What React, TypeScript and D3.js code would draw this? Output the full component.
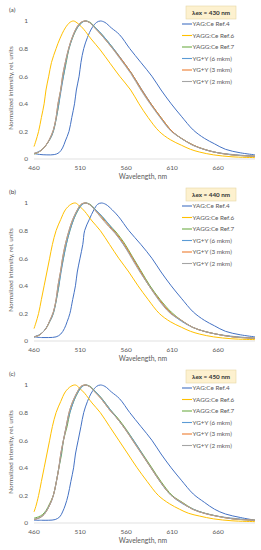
import React, { useEffect, useRef } from "react";
import * as d3 from "d3";

type Pt = [number, number];

const seriesNames = ["YAG:Ce Ref.4", "YAGG:Ce Ref.6", "YAGG:Ce Ref.7", "YG+Y (6 mkm)", "YG+Y (3 mkm)", "YG+Y (2 mkm)"];
const seriesColors = ["#4472C4", "#FFC000", "#70AD47", "#5B9BD5", "#ED7D31", "#A5A5A5"];
const panelLabels = ["(a)", "(b)", "(c)"];
const excitation = ["λex = 430 nm", "λex = 440 nm", "λex = 450 nm"];
const xTicks = [460, 510, 560, 610, 660];
const yTicks = [0, 0.2, 0.4, 0.6, 0.8, 1];

// (a) λex = 430 nm
const ref4A: Pt[] = [[460,0.04],[466,0.033],[474,0.03],[482,0.032],[487,0.045],[491,0.08],[494,0.13],[498,0.2],[501,0.3],[504,0.4],[506,0.5],[509,0.6],[511,0.7],[514,0.8],[518,0.88],[523,0.95],[528,0.99],[532,1.0],[537,0.99],[544,0.95],[553,0.9],[564,0.8],[576,0.7],[588,0.6],[598,0.5],[609,0.4],[620,0.31],[633,0.21],[645,0.15],[656,0.11],[668,0.07],[684,0.045],[700,0.03]];
const ref6A: Pt[] = [[460,0.09],[462,0.13],[465,0.2],[468,0.3],[471,0.4],[473,0.5],[476,0.6],[479,0.7],[484,0.8],[488,0.87],[494,0.95],[499,0.99],[503,1.0],[508,0.98],[514,0.94],[522,0.87],[532,0.79],[543,0.69],[553,0.6],[565,0.5],[574,0.4],[584,0.3],[596,0.2],[608,0.14],[620,0.1],[630,0.07],[640,0.05],[655,0.03],[675,0.016],[700,0.01]];
const ref7A: Pt[] = [[460,0.035],[465,0.05],[469,0.07],[473,0.1],[477,0.14],[481,0.2],[484,0.29],[487,0.4],[489,0.5],[492,0.6],[495,0.7],[498,0.8],[502,0.88],[507,0.95],[512,0.99],[516,1.0],[521,0.99],[527,0.95],[534,0.9],[544,0.82],[554,0.73],[566,0.62],[577,0.5],[587,0.4],[598,0.3],[610,0.2],[620,0.15],[633,0.1],[645,0.07],[656,0.05],[675,0.03],[700,0.02]];
const yg6A: Pt[] = [[460,0.04],[469,0.07],[477,0.14],[481,0.2],[487,0.4],[492,0.6],[498,0.8],[507,0.95],[516,1.0],[527,0.95],[544,0.82],[566,0.62],[587,0.4],[610,0.2],[633,0.1],[656,0.05],[700,0.02]];
const yg3A: Pt[] = [[460,0.04],[465,0.05],[469,0.07],[473,0.1],[477,0.145],[481,0.21],[484,0.3],[486,0.4],[489,0.5],[491,0.6],[494,0.7],[498,0.81],[502,0.89],[507,0.96],[511,0.99],[515,1.0],[520,0.99],[526,0.95],[533,0.9],[543,0.82],[554,0.73],[566,0.62],[577,0.5],[587,0.4],[598,0.3],[610,0.2],[620,0.15],[633,0.1],[645,0.07],[656,0.05],[675,0.03],[700,0.02]];
const yg2A: Pt[] = [[460,0.04],[465,0.05],[469,0.07],[473,0.1],[477,0.145],[481,0.21],[484,0.3],[486,0.4],[489,0.5],[491,0.6],[494,0.7],[498,0.81],[502,0.89],[507,0.96],[511,0.99],[515,1.0],[520,0.99],[526,0.95],[533,0.9],[543,0.82],[553,0.73],[565,0.62],[576,0.5],[586,0.4],[597,0.3],[609,0.2],[620,0.15],[632,0.1],[645,0.07],[656,0.05],[675,0.03],[700,0.02]];

// (b) λex = 440 nm
const ref4B: Pt[] = [[460,0.03],[468,0.025],[476,0.025],[484,0.03],[489,0.05],[493,0.09],[496,0.14],[499,0.2],[502,0.3],[505,0.4],[507,0.5],[510,0.6],[513,0.7],[515,0.8],[520,0.88],[525,0.95],[529,0.99],[533,1.0],[538,0.99],[545,0.95],[552,0.9],[563,0.8],[576,0.7],[588,0.6],[598,0.5],[609,0.4],[620,0.31],[633,0.21],[645,0.15],[656,0.11],[668,0.07],[684,0.045],[700,0.03]];
const ref6B: Pt[] = [[460,0.09],[462,0.13],[465,0.2],[468,0.3],[471,0.4],[474,0.5],[477,0.6],[480,0.7],[484,0.8],[489,0.88],[494,0.95],[500,0.99],[505,1.0],[509,0.98],[515,0.94],[523,0.87],[532,0.8],[542,0.7],[552,0.6],[563,0.5],[573,0.4],[584,0.3],[596,0.2],[608,0.14],[620,0.1],[630,0.07],[640,0.05],[655,0.03],[675,0.016],[700,0.01]];
const ref7B: Pt[] = [[460,0.03],[465,0.04],[469,0.06],[473,0.09],[477,0.14],[481,0.2],[484,0.29],[487,0.4],[489,0.5],[492,0.6],[495,0.7],[499,0.8],[503,0.88],[508,0.95],[512,0.99],[516,1.0],[521,0.99],[527,0.95],[534,0.9],[542,0.84],[549,0.79],[558,0.71],[567,0.61],[576,0.51],[586,0.4],[597,0.3],[609,0.21],[620,0.15],[632,0.1],[645,0.07],[658,0.05],[676,0.03],[700,0.02]];
const yg6B: Pt[] = [[460,0.03],[469,0.06],[477,0.14],[481,0.2],[487,0.4],[492,0.6],[499,0.8],[508,0.95],[516,1.0],[527,0.95],[542,0.84],[567,0.6],[585,0.4],[609,0.2],[632,0.1],[658,0.05],[700,0.02]];
const yg3B: Pt[] = [[460,0.03],[465,0.04],[469,0.06],[473,0.09],[477,0.145],[481,0.21],[484,0.3],[486,0.4],[489,0.51],[491,0.6],[494,0.7],[498,0.8],[502,0.88],[507,0.95],[511,0.99],[515,1.0],[520,0.99],[526,0.95],[533,0.9],[542,0.83],[549,0.78],[558,0.7],[567,0.6],[576,0.5],[585,0.4],[596,0.3],[609,0.2],[620,0.15],[632,0.1],[645,0.07],[658,0.05],[676,0.03],[700,0.02]];
const yg2B: Pt[] = [[460,0.03],[465,0.04],[469,0.06],[473,0.09],[477,0.145],[481,0.21],[484,0.3],[486,0.4],[489,0.51],[491,0.6],[494,0.7],[498,0.8],[502,0.88],[507,0.95],[511,0.99],[515,1.0],[520,0.99],[526,0.95],[532,0.9],[541,0.83],[548,0.78],[557,0.7],[566,0.6],[575,0.5],[585,0.4],[595,0.3],[608,0.2],[620,0.15],[632,0.1],[645,0.07],[658,0.05],[676,0.03],[700,0.02]];

// (c) λex = 450 nm
const ref4C: Pt[] = [[460,0.02],[468,0.02],[476,0.02],[483,0.025],[488,0.045],[491,0.08],[494,0.13],[497,0.2],[500,0.3],[503,0.4],[505,0.5],[508,0.6],[511,0.7],[514,0.8],[518,0.88],[523,0.95],[528,0.99],[532,1.0],[537,0.99],[544,0.95],[553,0.9],[564,0.8],[576,0.7],[588,0.6],[598,0.5],[609,0.4],[620,0.31],[633,0.21],[645,0.15],[656,0.1],[668,0.065],[684,0.04],[700,0.02]];
const ref6C: Pt[] = [[460,0.08],[462,0.12],[465,0.2],[468,0.3],[471,0.4],[474,0.5],[477,0.6],[480,0.7],[484,0.8],[489,0.88],[494,0.95],[500,0.99],[505,1.0],[509,0.98],[515,0.94],[523,0.87],[532,0.8],[542,0.7],[552,0.6],[562,0.5],[572,0.4],[583,0.3],[595,0.2],[607,0.14],[618,0.1],[628,0.07],[640,0.05],[655,0.03],[675,0.016],[700,0.01]];
const ref7C: Pt[] = [[460,0.035],[465,0.045],[469,0.06],[473,0.09],[477,0.14],[481,0.2],[484,0.29],[487,0.4],[490,0.5],[492,0.6],[496,0.7],[499,0.8],[503,0.88],[508,0.95],[512,0.99],[516,1.0],[521,0.99],[527,0.95],[534,0.9],[543,0.82],[551,0.76],[560,0.68],[569,0.59],[578,0.5],[588,0.4],[598,0.3],[610,0.2],[621,0.15],[633,0.1],[646,0.07],[659,0.05],[676,0.03],[700,0.02]];
const yg6C: Pt[] = [[460,0.025],[469,0.05],[477,0.13],[481,0.2],[487,0.4],[492,0.6],[499,0.8],[508,0.95],[516,1.0],[527,0.95],[543,0.82],[568,0.6],[587,0.4],[609,0.2],[633,0.1],[659,0.05],[700,0.02]];
const yg3C: Pt[] = [[460,0.025],[465,0.035],[469,0.05],[473,0.08],[477,0.13],[481,0.2],[484,0.29],[487,0.4],[489,0.5],[492,0.6],[495,0.7],[498,0.8],[502,0.88],[507,0.95],[511,0.99],[515,1.0],[520,0.99],[526,0.95],[533,0.9],[542,0.82],[550,0.76],[559,0.68],[568,0.59],[577,0.5],[587,0.4],[597,0.3],[609,0.2],[620,0.15],[632,0.1],[645,0.07],[658,0.05],[676,0.03],[700,0.02]];
const yg2C: Pt[] = [[460,0.025],[465,0.035],[469,0.05],[473,0.08],[477,0.13],[481,0.2],[484,0.29],[487,0.4],[489,0.5],[492,0.6],[495,0.7],[498,0.8],[502,0.88],[507,0.95],[511,0.99],[515,1.0],[520,0.99],[526,0.95],[533,0.9],[542,0.82],[550,0.76],[559,0.68],[568,0.59],[577,0.5],[587,0.4],[597,0.3],[609,0.2],[620,0.15],[632,0.1],[645,0.07],[658,0.05],[676,0.03],[700,0.02]];

const panels: Pt[][][] = [
  [ref4A, ref6A, ref7A, yg6A, yg3A, yg2A],
  [ref4B, ref6B, ref7B, yg6B, yg3B, yg2B],
  [ref4C, ref6C, ref7C, yg6C, yg3C, yg2C],
];

const W = 261;
const H = 550;
const panelStep = 182;
const font = "Lato, 'Open Sans', sans-serif";

const App = () => {
  const svgRef = useRef<SVGSVGElement>(null);

  useEffect(() => {
    const svg = d3.select(svgRef.current);
    svg.selectAll("*").remove();

    const x = d3.scaleLinear().domain([460, 700]).range([34, 255]);
    const y = d3.scaleLinear().domain([0, 1]).range([159, 21]);
    const line = d3
      .line<Pt>()
      .x((d) => x(d[0]))
      .y((d) => y(d[1]))
      .curve(d3.curveCatmullRom.alpha(0.5));

    panels.forEach((series, p) => {
      const g = svg.append("g").attr("transform", `translate(0,${p * panelStep})`);

      // panel label
      g.append("text")
        .attr("x", 9)
        .attr("y", 12)
        .attr("font-size", 6.5)
        .attr("fill", "#404040")
        .text(panelLabels[p]);

      // x axis line
      g.append("line")
        .attr("x1", x(460))
        .attr("x2", x(700))
        .attr("y1", y(0))
        .attr("y2", y(0))
        .attr("stroke", "#D9D9D9")
        .attr("stroke-width", 0.8);

      // tick labels
      g.selectAll(".xt")
        .data(xTicks)
        .join("text")
        .attr("x", (d) => x(d))
        .attr("y", 170)
        .attr("text-anchor", "middle")
        .attr("font-size", 6.5)
        .attr("fill", "#595959")
        .text((d) => d);

      g.selectAll(".yt")
        .data(yTicks)
        .join("text")
        .attr("x", 28)
        .attr("y", (d) => y(d) + 2.3)
        .attr("text-anchor", "end")
        .attr("font-size", 6.5)
        .attr("fill", "#595959")
        .text((d) => d3.format("~g")(d));

      // axis titles
      g.append("text")
        .attr("x", 143)
        .attr("y", 179)
        .attr("text-anchor", "middle")
        .attr("font-size", 6.8)
        .attr("fill", "#595959")
        .text("Wavelength, nm");

      g.append("text")
        .attr("transform", `translate(13,88) rotate(-90)`)
        .attr("text-anchor", "middle")
        .attr("font-size", 6.3)
        .attr("fill", "#595959")
        .text("Normalized intensity, rel. units");

      // curves
      series.forEach((pts, i) => {
        g.append("path")
          .datum(pts)
          .attr("d", line)
          .attr("fill", "none")
          .attr("stroke", seriesColors[i])
          .attr("stroke-width", 1)
          .attr("stroke-linejoin", "round");
      });

      // excitation box
      g.append("rect")
        .attr("x", 186)
        .attr("y", 6)
        .attr("width", 50)
        .attr("height", 13)
        .attr("fill", "#FDF1CF")
        .attr("stroke", "#E6D7A6")
        .attr("stroke-width", 0.6);
      g.append("text")
        .attr("x", 211)
        .attr("y", 14.8)
        .attr("text-anchor", "middle")
        .attr("font-size", 6.3)
        .attr("font-weight", "bold")
        .attr("fill", "#333333")
        .text(excitation[p]);

      // legend
      const leg = g
        .selectAll(".leg")
        .data(seriesNames)
        .join("g")
        .attr("transform", (d, i) => `translate(182,${24 + i * 11.5})`);
      leg.append("line")
        .attr("x1", 0)
        .attr("x2", 10)
        .attr("stroke", (d, i) => seriesColors[i])
        .attr("stroke-width", 1.1);
      leg.append("text")
        .attr("x", 10.5)
        .attr("y", 2.3)
        .attr("font-size", 6.3)
        .attr("fill", "#595959")
        .text((d) => d);
    });
  }, []);

  return (
    <svg
      ref={svgRef}
      width={W}
      height={H}
      style={{ position: "absolute", left: 0, top: 0, background: "#fff", fontFamily: font }}
    />
  );
};

export default App;
